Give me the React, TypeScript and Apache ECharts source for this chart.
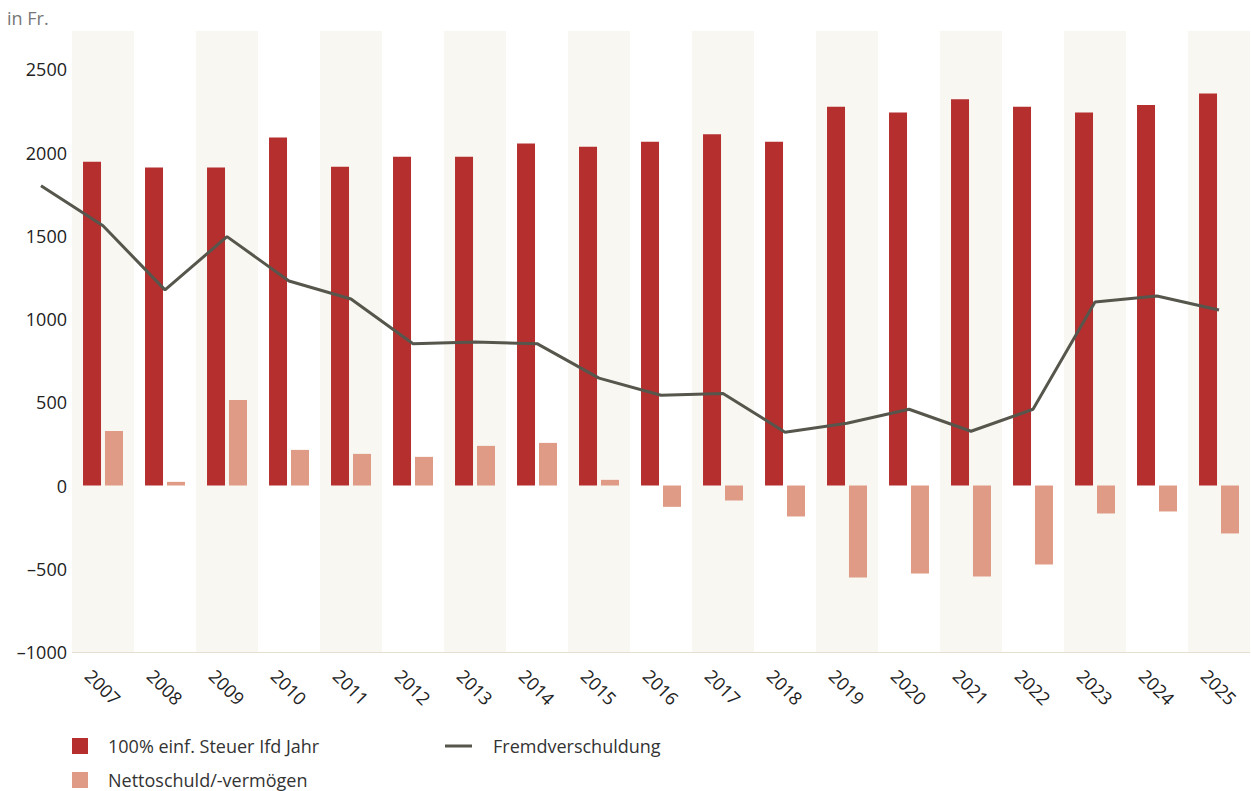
import React, { useEffect, useRef } from "react";
import * as echarts from "echarts";

const years = ["2007", "2008", "2009", "2010", "2011", "2012", "2013", "2014", "2015", "2016", "2017", "2018", "2019", "2020", "2021", "2022", "2023", "2024", "2025"];
const steuer = [1945, 1910, 1910, 2090, 1915, 1975, 1975, 2055, 2035, 2065, 2110, 2065, 2275, 2240, 2320, 2275, 2240, 2285, 2355];
const netto = [328, 22, 514, 214, 190, 172, 238, 256, 34, -128, -90, -186, -552, -528, -546, -474, -168, -156, -288];
const fremdYears = [2006, 2007, 2008, 2009, 2010, 2011, 2012, 2013, 2014, 2015, 2016, 2017, 2018, 2019, 2020, 2021, 2022, 2023, 2024, 2025];
const fremd = [1800, 1560, 1175, 1495, 1228, 1120, 852, 862, 852, 645, 542, 553, 320, 374, 458, 326, 458, 1102, 1138, 1054];
const yTicks = { min: -1000, max: 2730, interval: 500 };

const FONT = "'Open Sans', 'Noto Sans', sans-serif";
const legendText = { fontSize: 18, color: "#333333", fontFamily: FONT };

export default function App() {
  const ref = useRef<HTMLDivElement>(null);
  useEffect(() => {
    if (!ref.current) return;
    const chart = echarts.init(ref.current, null, { renderer: "svg" });
    const firstYear = Number(years[0]);
    const band = (1251 - 72 - 1) / years.length;
    chart.setOption({
      animation: false,
      backgroundColor: "#ffffff",
      textStyle: { fontFamily: FONT },
      title: {
        text: "in Fr.",
        left: 2,
        top: 4,
        textStyle: { fontSize: 18, fontWeight: "normal", color: "#777777", fontFamily: FONT },
      },
      grid: [
        { left: 72, right: 1, top: 31, bottom: 139, containLabel: false },
        { left: 72 - band / 2, right: 1 + band / 2, top: 31, bottom: 139, containLabel: false },
      ],
      legend: [
        {
          data: ["100% einf. Steuer Ifd Jahr"],
          left: 72,
          top: 737,
          padding: 0,
          icon: "rect",
          itemWidth: 16,
          itemHeight: 16,
          textStyle: { ...legendText, padding: [0, 0, 0, 15] },
        },
        {
          data: ["Nettoschuld/-vermögen"],
          left: 72,
          top: 771,
          padding: 0,
          icon: "rect",
          itemWidth: 16,
          itemHeight: 16,
          textStyle: { ...legendText, padding: [0, 0, 0, 15] },
        },
        {
          data: ["Fremdverschuldung"],
          left: 445,
          top: 737,
          padding: 0,
          icon: "rect",
          itemWidth: 27,
          itemHeight: 3,
          textStyle: { ...legendText, padding: [0, 0, 0, 16] },
        },
      ],
      xAxis: [
        {
          type: "category",
          gridIndex: 0,
          data: years,
          axisLine: { show: false, onZero: false },
          axisTick: { show: false },
          splitArea: { show: true, areaStyle: { color: ["#f8f7f1", "#ffffff"] } },
          axisLabel: {
            rotate: -45,
            align: "center",
            verticalAlign: "middle",
            margin: 35,
            fontSize: 18,
            color: "#222222",
            fontFamily: FONT,
          },
        },
        {
          type: "value",
          gridIndex: 1,
          min: fremdYears[0] - firstYear,
          max: years.length - 1,
          show: false,
          splitLine: { show: false },
        },
      ],
      yAxis: [
        {
          type: "value",
          gridIndex: 0,
          min: yTicks.min,
          max: yTicks.max,
          interval: yTicks.interval,
          axisLine: { show: false },
          axisTick: { show: false },
          axisLabel: {
            margin: 5,
            fontSize: 18,
            color: "#222222",
            fontFamily: FONT,
            showMaxLabel: false,
            formatter: (v: number) => (v % 500 === 0 ? String(v).replace("-", "\u2013") : ""),
          },
          splitLine: { show: true, showMaxLine: false, lineStyle: { color: "#ddd5bf", width: 1.5 } },
        },
        {
          type: "value",
          gridIndex: 1,
          min: yTicks.min,
          max: yTicks.max,
          interval: yTicks.interval,
          show: false,
          splitLine: { show: false },
        },
      ],
      series: [
        {
          name: "100% einf. Steuer Ifd Jahr",
          type: "bar",
          data: steuer,
          barWidth: 18,
          barGap: "22%",
          itemStyle: { color: "#b52f2f" },
        },
        {
          name: "Nettoschuld/-vermögen",
          type: "bar",
          data: netto,
          barWidth: 18,
          barGap: "22%",
          itemStyle: { color: "#df9b86" },
        },
        {
          name: "Fremdverschuldung",
          type: "line",
          xAxisIndex: 1,
          yAxisIndex: 1,
          data: fremd.map((v, i) => [fremdYears[i] - firstYear, v]),
          showSymbol: false,
          symbol: "none",
          clip: false,
          lineStyle: { color: "#57564c", width: 3 },
          itemStyle: { color: "#57564c" },
          z: 5,
        },
      ],
    });
    return () => chart.dispose();
  }, []);
  return <div ref={ref} style={{ position: "fixed", left: 0, top: 0, width: "1251px", height: "791px" }} />;
}
